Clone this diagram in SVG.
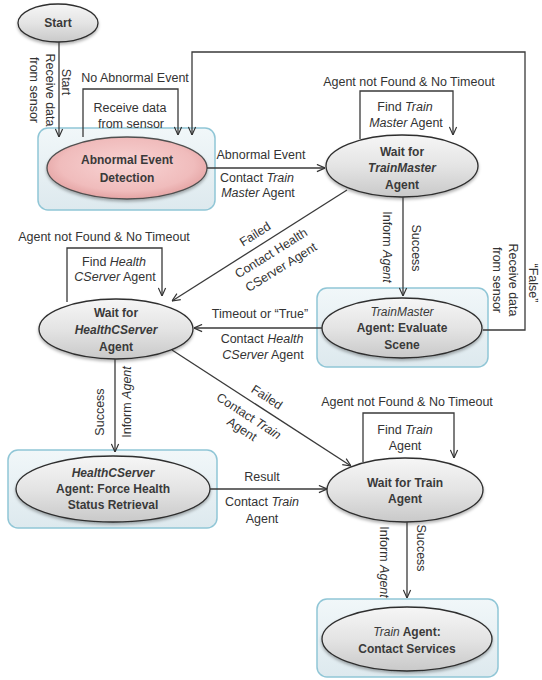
<svg xmlns="http://www.w3.org/2000/svg" width="542" height="680" viewBox="0 0 542 680">
<defs>
<linearGradient id="gGray" x1="0" y1="0" x2="0" y2="1">
<stop offset="0" stop-color="#f6f6f6"/><stop offset="0.5" stop-color="#e4e4e4"/><stop offset="1" stop-color="#c9c9c9"/>
</linearGradient>
<radialGradient id="gPink" cx="0.5" cy="0.45" r="0.6">
<stop offset="0" stop-color="#f8d4d4"/><stop offset="0.7" stop-color="#f0bcbc"/><stop offset="1" stop-color="#e09a9a"/>
</radialGradient>
<linearGradient id="gBox" x1="0" y1="0" x2="0" y2="1">
<stop offset="0" stop-color="#f1f7f9"/><stop offset="1" stop-color="#dde9ee"/>
</linearGradient>
<filter id="sh" x="-10%" y="-10%" width="120%" height="130%">
<feDropShadow dx="0" dy="2" stdDeviation="1.5" flood-color="#000" flood-opacity="0.3"/>
</filter>
<marker id="ar" viewBox="0 0 10 10" refX="10" refY="5" markerWidth="9" markerHeight="9" markerUnits="userSpaceOnUse" orient="auto">
<path d="M1,1 L10,5 L1,9" fill="none" stroke="#333" stroke-width="1.3"/>
</marker>
</defs>
<style>
.box{fill:url(#gBox);stroke:#90c6d6;stroke-width:1.5}
.ell{fill:url(#gGray);stroke:#2e2e2e;stroke-width:1.3;filter:url(#sh)}
.pink{fill:url(#gPink);stroke:#505050;stroke-width:1.3;filter:url(#sh)}
.nt{font-family:"Liberation Sans",Arial,sans-serif;font-size:12px;font-weight:bold;fill:#3a3a3a;text-anchor:middle}
.lb{font-family:"Liberation Sans",Arial,sans-serif;font-size:12.5px;fill:#333;text-anchor:middle}
.c{fill:none;stroke:#3a3a3a;stroke-width:1.3}
.i{font-style:italic}
.n{font-weight:normal}
</style>
<rect width="542" height="680" fill="#fff"/>

<g id="start">
<ellipse class="ell" cx="58" cy="23" rx="40" ry="19"/>
<text class="nt" x="58" y="23" dy="0.35em">Start</text>
</g>

<g id="abnormal">
<rect class="box" x="38" y="128" width="177" height="82" rx="10"/>
<ellipse class="pink" cx="127" cy="168" rx="80" ry="31"/>
<text class="nt" x="127" y="160" dy="0.35em">Abnormal Event</text>
<text class="nt" x="127" y="178" dy="0.35em">Detection</text>
</g>

<g id="waitTrainMaster">
<ellipse class="ell" cx="402" cy="166" rx="76" ry="31"/>
<text class="nt" x="402" y="152" dy="0.35em">Wait for</text>
<text class="nt i" x="402" y="168" dy="0.35em">TrainMaster</text>
<text class="nt" x="402" y="185" dy="0.35em">Agent</text>
</g>

<g id="evaluate">
<rect class="box" x="317" y="288" width="171" height="79" rx="10"/>
<ellipse class="ell" cx="402" cy="328" rx="80" ry="30"/>
<text class="nt i n" x="402" y="312" dy="0.35em">TrainMaster</text>
<text class="nt" x="402" y="328" dy="0.35em">Agent: Evaluate</text>
<text class="nt" x="402" y="345" dy="0.35em">Scene</text>
</g>

<g id="waitHealth">
<ellipse class="ell" cx="116" cy="329" rx="77" ry="30"/>
<text class="nt" x="116" y="313" dy="0.35em">Wait for</text>
<text class="nt i" x="116" y="330" dy="0.35em">HealthCServer</text>
<text class="nt" x="116" y="347" dy="0.35em">Agent</text>
</g>

<g id="forceHealth">
<rect class="box" x="8" y="450" width="209" height="78" rx="10"/>
<ellipse class="ell" cx="113" cy="489" rx="97" ry="33"/>
<text class="nt i" x="113" y="473" dy="0.35em">HealthCServer</text>
<text class="nt" x="113" y="489" dy="0.35em">Agent: Force Health</text>
<text class="nt" x="113" y="505" dy="0.35em">Status Retrieval</text>
</g>

<g id="waitTrain">
<ellipse class="ell" cx="405" cy="490" rx="78" ry="32"/>
<text class="nt" x="405" y="483" dy="0.35em">Wait for Train</text>
<text class="nt" x="405" y="499" dy="0.35em">Agent</text>
</g>

<g id="trainAgent">
<rect class="box" x="317" y="599" width="181" height="78" rx="10"/>
<ellipse class="ell" cx="407" cy="639" rx="85" ry="32"/>
<text class="nt" x="407" y="632" dy="0.35em"><tspan class="i n">Train</tspan> Agent:</text>
<text class="nt" x="407" y="649" dy="0.35em">Contact Services</text>
</g>

<g id="connectors">
<path class="c" d="M59,42 V137" marker-end="url(#ar)"/>
<path class="c" d="M83,137 V89 H178 V135" marker-end="url(#ar)"/>
<path class="c" d="M483,330 H525 V52 H192 V135" marker-end="url(#ar)"/>
<path class="c" d="M207,168 H325" marker-end="url(#ar)"/>
<path class="c" d="M360,139 V91 H453 V135" marker-end="url(#ar)"/>
<path class="c" d="M403,197 V296" marker-end="url(#ar)"/>
<path class="c" d="M347,190 L172,301" marker-end="url(#ar)"/>
<path class="c" d="M322,328 H194" marker-end="url(#ar)"/>
<path class="c" d="M67,302 V248 H162 V296" marker-end="url(#ar)"/>
<path class="c" d="M115,359 V452" marker-end="url(#ar)"/>
<path class="c" d="M172,350 L351,466" marker-end="url(#ar)"/>
<path class="c" d="M210,489 H327" marker-end="url(#ar)"/>
<path class="c" d="M363,462 V413 H454 V458" marker-end="url(#ar)"/>
<path class="c" d="M407,522 V598" marker-end="url(#ar)"/>

<text class="lb" transform="translate(66,82) rotate(90)" dy="0.35em">Start</text>
<text class="lb" transform="translate(50,90) rotate(90)" dy="0.35em">Receive data</text>
<text class="lb" transform="translate(34,90) rotate(90)" dy="0.35em">from sensor</text>
<text class="lb" x="135" y="78" dy="0.35em">No Abnormal Event</text>
<text class="lb" x="130" y="108" dy="0.35em">Receive data</text>
<text class="lb" x="131" y="124" dy="0.35em">from sensor</text>
<text class="lb" transform="translate(513,280) rotate(90)" dy="0.35em">Receive data</text>
<text class="lb" transform="translate(497,280) rotate(90)" dy="0.35em">from sensor</text>
<text class="lb" transform="translate(533,283) rotate(90)" dy="0.35em">“False”</text>
<text class="lb" x="261" y="155" dy="0.35em">Abnormal Event</text>
<text class="lb" x="257" y="178" dy="0.35em">Contact <tspan class="i">Train</tspan></text>
<text class="lb" x="258" y="193" dy="0.35em"><tspan class="i">Master</tspan> Agent</text>
<text class="lb" x="409" y="82" dy="0.35em">Agent not Found &amp; No Timeout</text>
<text class="lb" x="405" y="107" dy="0.35em">Find <tspan class="i">Train</tspan></text>
<text class="lb" x="406" y="123" dy="0.35em"><tspan class="i">Master</tspan> Agent</text>
<text class="lb" transform="translate(387,247) rotate(90)" dy="0.35em">Inform <tspan class="i">Agent</tspan></text>
<text class="lb" transform="translate(416,248) rotate(90)" dy="0.35em">Success</text>
<text class="lb" transform="translate(255,234) rotate(-32)" dy="0.35em">Failed</text>
<text class="lb" transform="translate(271,253) rotate(-32)" dy="0.35em">Contact Health</text>
<text class="lb" transform="translate(281,267) rotate(-32)" dy="0.35em">CServer Agent</text>
<text class="lb" x="260" y="314" dy="0.35em">Timeout or “True”</text>
<text class="lb" x="262" y="339" dy="0.35em">Contact <tspan class="i">Health</tspan></text>
<text class="lb" x="263" y="355" dy="0.35em"><tspan class="i">CServer</tspan> Agent</text>
<text class="lb" x="104" y="237" dy="0.35em">Agent not Found &amp; No Timeout</text>
<text class="lb" x="114" y="262" dy="0.35em">Find <tspan class="i">Health</tspan></text>
<text class="lb" x="115" y="277" dy="0.35em"><tspan class="i">CServer</tspan> Agent</text>
<text class="lb" transform="translate(100,412) rotate(-90)" dy="0.35em">Success</text>
<text class="lb" transform="translate(127,402) rotate(-90)" dy="0.35em">Inform <tspan class="i">Agent</tspan></text>
<text class="lb" transform="translate(267,397) rotate(33)" dy="0.35em">Failed</text>
<text class="lb" transform="translate(249,416) rotate(33)" dy="0.35em">Contact <tspan class="i">Train</tspan></text>
<text class="lb" transform="translate(242,429) rotate(33)" dy="0.35em">Agent</text>
<text class="lb" x="262" y="477" dy="0.35em">Result</text>
<text class="lb" x="262" y="502" dy="0.35em">Contact <tspan class="i">Train</tspan></text>
<text class="lb" x="262" y="519" dy="0.35em">Agent</text>
<text class="lb" x="407" y="402" dy="0.35em">Agent not Found &amp; No Timeout</text>
<text class="lb" x="405" y="430" dy="0.35em">Find <tspan class="i">Train</tspan></text>
<text class="lb" x="405" y="446" dy="0.35em">Agent</text>
<text class="lb" transform="translate(384,562) rotate(90)" dy="0.35em">Inform <tspan class="i">Agent</tspan></text>
<text class="lb" transform="translate(421,548) rotate(90)" dy="0.35em">Success</text>
</g>
</svg>
